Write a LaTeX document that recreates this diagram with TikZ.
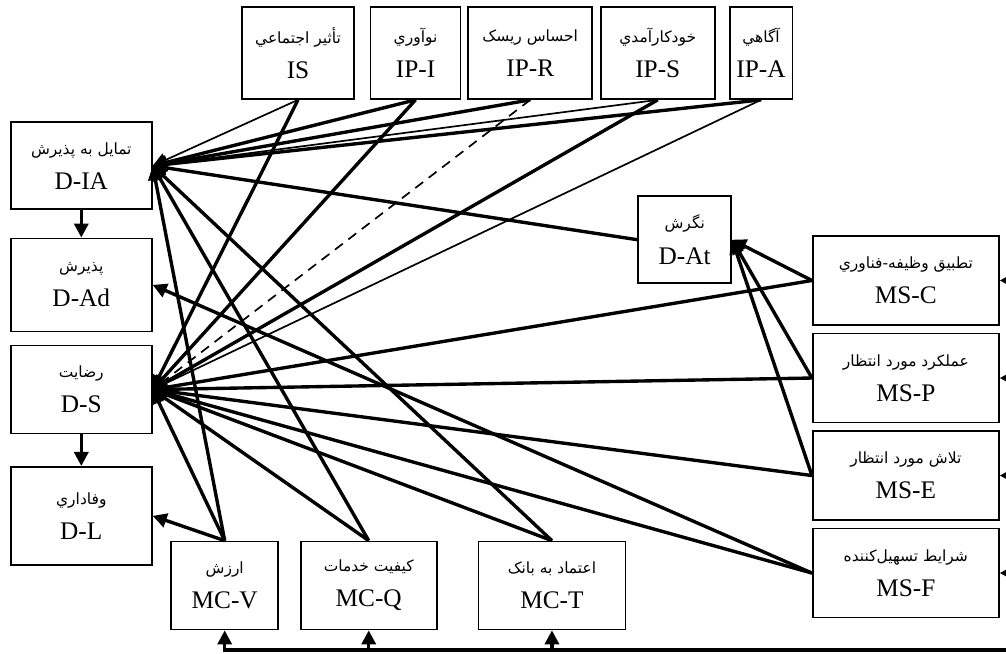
\documentclass[tikz,border=0pt]{standalone}
\usepackage{fontspec}
\setmainfont{Liberation Serif}
\newfontfamily\persianfont[Script=Arabic]{DejaVu Sans}
\TeXXeTstate=1
\usetikzlibrary{arrows.meta,positioning}
\newcommand{\fatxt}[1]{{\persianfont\fontsize{11}{13}\selectfont\beginR #1\endR}}

\begin{document}
\begin{tikzpicture}[x=0.025cm, y=-0.025cm,
    box/.style={rectangle, draw, line width=1.2pt, inner sep=1pt, align=center, font=\fontsize{18}{25}\selectfont},
    top/.style={box, minimum height=2.3cm},
    side/.style={box, minimum width=3.525cm},
    ms/.style={box, minimum width=4.65cm, minimum height=2.225cm},
    mc/.style={box, minimum height=2.2cm},
    arrow/.style={line width=2.4pt, -{Triangle[length=10pt,width=10pt]}},
    thin arrow/.style={arrow, line width=1.2pt},
    dashed arrow/.style={thin arrow, dash pattern=on 7pt off 5pt}]

    \useasboundingbox (0,0) rectangle (1006,653);
    \clip (0,0) rectangle (1006,653);

    % Nodes
    \node [top, minimum width=2.8cm] (is) at (298,53) {\fatxt{تأثير اجتماعي}\\IS};
    \node [top, minimum width=2.25cm, right=0.37cm of is] (ipi) {\fatxt{نوآوري}\\IP-I};
    \node [top, minimum width=3.1cm, right=0.15cm of ipi] (ipr) {\fatxt{احساس ريسک}\\IP-R};
    \node [top, minimum width=2.85cm, right=0.17cm of ipr] (ips) {\fatxt{خودکارآمدي}\\IP-S};
    \node [top, minimum width=1.57cm, right=0.33cm of ips] (ipa) {\fatxt{آگاهي}\\IP-A};

    \node [side, minimum height=2.175cm] (dia) at (81.3,165.8) {\fatxt{تمایل به پذیرش}\\D-IA};
    \node [side, minimum height=2.325cm, below=0.685cm of dia] (dad) {\fatxt{پذیرش}\\D-Ad};
    \node [side, minimum height=2.2cm, below=0.31cm of dad] (ds) {\fatxt{رضایت}\\D-S};
    \node [side, minimum height=2.45cm, below=0.79cm of ds] (dl) {\fatxt{وفاداري}\\D-L};

    \node [box, minimum width=2.325cm, minimum height=2.175cm] (dat) at (684.7,239.7) {\fatxt{نگرش}\\D-At};

    \node [ms] (msc) at (905.8,280.5) {\fatxt{تطبيق وظيفه-فناوري}\\MS-C};
    \node [ms, below=0.17cm of msc] (msp) {\fatxt{عملكرد مورد انتظار}\\MS-P};
    \node [ms, below=0.17cm of msp] (mse) {\fatxt{تلاش مورد انتظار}\\MS-E};
    \node [ms, below=0.17cm of mse] (msf) {\fatxt{شرایط تسهیل‌کننده}\\MS-F};

    \node [mc, minimum width=2.675cm] (mcv) at (224.7,585.5) {\fatxt{ارزش}\\MC-V};
    \node [mc, minimum width=3.4cm, right=0.52cm of mcv] (mcq) {\fatxt{كيفيت خدمات}\\MC-Q};
    \node [mc, minimum width=3.675cm, right=1cm of mcq] (mct) {\fatxt{اعتماد به بانک}\\MC-T};

    % Arrows into D-IA
    \draw [thin arrow] (is.south) -- (dia.east);
    \draw [arrow] (ipi.south) -- (dia.east);
    \draw [arrow] (ipr.south) -- (dia.east);
    \draw [thin arrow] (ips.south) -- (dia.east);
    \draw [arrow] (ipa.south) -- (dia.east);
    \draw [arrow] (dat.west) -- (dia.east);
    \draw [arrow] (mcv.north) -- (dia.east);
    \draw [arrow] (mcq.north) -- (dia.east);
    \draw [arrow] (mct.north) -- (dia.east);

    % Arrows into D-S
    \draw [arrow] (is.south) -- (ds.east);
    \draw [arrow] (ipi.south) -- (ds.east);
    \draw [dashed arrow] (ipr.south) -- (ds.east);
    \draw [arrow] (ips.south) -- (ds.east);
    \draw [thin arrow] (ipa.south) -- (ds.east);
    \draw [arrow] (msc.west) -- (ds.east);
    \draw [arrow] (msp.west) -- (ds.east);
    \draw [arrow] (mse.west) -- (ds.east);
    \draw [arrow] (msf.west) -- (ds.east);
    \draw [arrow] (mcv.north) -- (ds.east);
    \draw [arrow] (mcq.north) -- (ds.east);
    \draw [arrow] (mct.north) -- (ds.east);

    % Other arrows
    \draw [arrow] (msf.west) -- (dad.east);
    \draw [arrow] (mcv.north) -- (dl.east);
    \draw [arrow] (msc.west) -- (dat.east);
    \draw [arrow] (msp.west) -- (dat.east);
    \draw [arrow] (mse.west) -- (dat.east);
    \draw [arrow] (dia) -- (dad);
    \draw [arrow] (ds) -- (dl);

    % Lines from outside the frame
    \coordinate (mod) at (1030,650);
    \draw [arrow] (mod) -- (mcv.south |- mod) -- (mcv.south);
    \draw [arrow] (mcq.south |- mod) -- (mcq.south);
    \draw [arrow] (mct.south |- mod) -- (mct.south);
    \draw [line width=2.4pt] (mod) -- (mod |- msc.east);
    \draw [arrow] (mod |- msc.east) -- (msc.east);
    \draw [arrow] (mod |- msp.east) -- (msp.east);
    \draw [arrow] (mod |- mse.east) -- (mse.east);
    \draw [arrow] (mod |- msf.east) -- (msf.east);

\end{tikzpicture}
\end{document}
